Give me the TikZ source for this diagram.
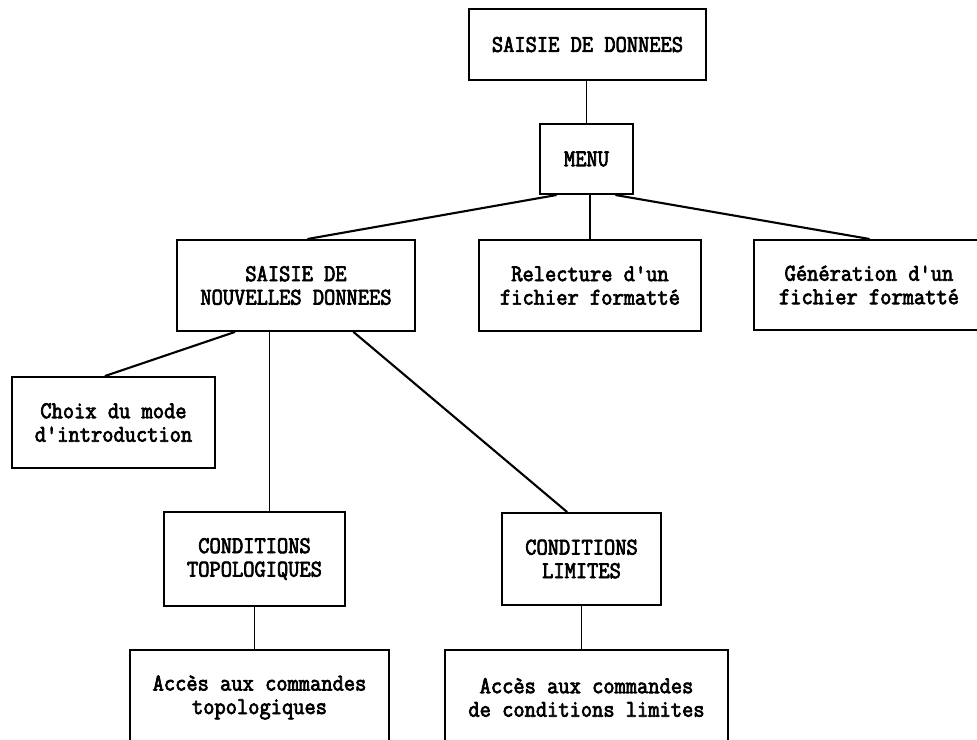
\documentclass[tikz,border=0pt]{standalone}
\usepackage{fontspec}
\newfontfamily\twfont[FakeStretch=0.91,FakeBold=3]{Latin Modern Mono}
\usetikzlibrary{calc}
\tikzset{
  box/.style={draw=black, line width=2.2pt, inner sep=0pt, align=center,
    font=\twfont\fontsize{24}{23.5}\selectfont, text=black},
  link/.style={draw=black, line width=1.5pt, line cap=round},
  slant/.style={draw=black, line width=2.1pt, line cap=round},
}
\begin{document}
\begin{tikzpicture}[x=1pt,y=-1pt]
\clip (0,0) rectangle (977,739);
\fill[white] (0,0) rectangle (977,739);
\node[box, minimum width=237pt, minimum height=71pt] (top) at (587.5,44.5) {SAISIE DE DONNEES};
\node[box, minimum width=93pt, minimum height=70pt] (menu) at (586.5,159) {MENU};
\node[box, minimum width=238pt, minimum height=91pt] (nouv) at (296,285.5) {SAISIE DE\\NOUVELLES DONNEES};
\node[box, minimum width=222pt, minimum height=91pt] (rel) at (590,285.5) {Relecture d'un\\fichier formatté};
\node[box, minimum width=230pt, minimum height=90pt] (gen) at (869,285) {Génération d'un\\fichier formatté};
\node[box, minimum width=203pt, minimum height=91pt] (choix) at (113.5,422.5) {Choix du mode\\d'introduction};
\node[box, minimum width=181pt, minimum height=94pt] (topo) at (254.5,559) {CONDITIONS\\TOPOLOGIQUES};
\node[box, minimum width=159pt, minimum height=92pt] (lim) at (581.5,559) {CONDITIONS\\LIMITES};
\node[box, minimum width=259pt, minimum height=95pt] (acctopo) at (259.5,697.5) {Accès aux commandes\\topologiques};
\node[box, minimum width=283pt, minimum height=95pt] (acclim) at (586.5,697.5) {Accès aux commandes\\de conditions limites};

\draw[link] (top.south -| menu.north) -- (menu.north);
\draw[slant] ($(menu.south west)!0.18!(menu.south east)$) -- ($(nouv.north west)!0.55!(nouv.north east)$);
\draw[link] (menu.south -| rel.north) -- (rel.north);
\draw[slant] ($(menu.south west)!0.81!(menu.south east)$) -- (gen.north);
\draw[slant] ($(nouv.south west)!0.244!(nouv.south east)$) -- ($(choix.north west)!0.46!(choix.north east)$);
\coordinate (nt) at ($(nouv.south west)!0.39!(nouv.south east)$);
\draw[link] (nt) -- (nt |- topo.north);
\draw[slant] ($(nouv.south west)!0.74!(nouv.south east)$) -- ($(lim.north west)!0.41!(lim.north east)$);
\draw[link] (topo.south) -- (topo.south |- acctopo.north);
\draw[link] (lim.south) -- (lim.south |- acclim.north);
\end{tikzpicture}
\end{document}
